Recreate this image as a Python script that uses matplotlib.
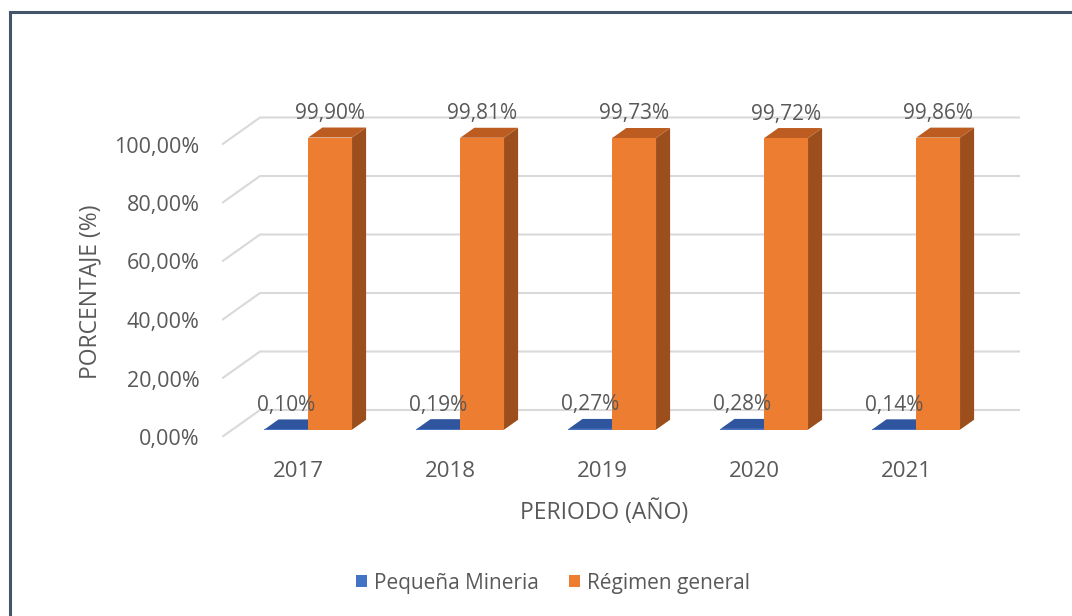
import matplotlib
matplotlib.use("Agg")
import matplotlib.pyplot as plt
from matplotlib.patches import Polygon, Rectangle
from matplotlib.lines import Line2D

years = ['2017', '2018', '2019', '2020', '2021']
pequena = [0.10, 0.19, 0.27, 0.28, 0.14]
regimen = [99.90, 99.81, 99.73, 99.72, 99.86]
series_names = ['Pequeña Mineria', 'Régimen general']
yticks = [0, 20, 40, 60, 80, 100]

plt.rcParams['font.family'] = ['Open Sans', 'DejaVu Sans']
TXT = '#595959'

W, H = 1072, 616
fig = plt.figure(figsize=(W / 100, H / 100), dpi=100)

# axes placed in pixel terms
px_l, px_r, px_b, px_t = 222, 1022, 437, 110
ax = fig.add_axes([px_l / W, 1 - px_b / H, (px_r - px_l) / W, (px_b - px_t) / H])
cat_px = 152.0
y_px = 2.925
ax.set_xlim(-0.5, -0.5 + (px_r - px_l) / cat_px)
ax.set_ylim(0, (px_b - px_t) / y_px)
for s in ax.spines.values():
    s.set_visible(False)
ax.patch.set_visible(False)

# oblique depth
DX = 38 / cat_px
DY = 27 / y_px


def proj(x, y, d):
    return (x + d * DX, y + d * DY)


n = len(years)
grid_c = '#D9D9D9'
for v in yticks:
    p0 = proj(-0.5, v, 0)
    p1 = proj(-0.5, v, 1)
    p2 = proj(n - 0.5, v, 1)
    ax.plot([p0[0], p1[0], p2[0]], [p0[1], p1[1], p2[1]], color=grid_c, lw=1.5,
            zorder=1, solid_capstyle='butt')

bw = 0.288
d0, d1 = 0.27, 0.64


def bar3d(xl, h, front, top, side):
    xr = xl + bw
    f = [proj(xl, 0, d0), proj(xr, 0, d0), proj(xr, h, d0), proj(xl, h, d0)]
    t = [proj(xl, h, d0), proj(xr, h, d0), proj(xr, h, d1), proj(xl, h, d1)]
    s = [proj(xr, 0, d0), proj(xr, 0, d1), proj(xr, h, d1), proj(xr, h, d0)]
    ax.add_patch(Polygon(s, closed=True, facecolor=side, edgecolor='none', zorder=3))
    ax.add_patch(Polygon(t, closed=True, facecolor=top, edgecolor='none', zorder=3))
    ax.add_patch(Polygon(f, closed=True, facecolor=front, edgecolor='none', zorder=3))


def fmt(v):
    return f"{v:.2f}%".replace('.', ',')


for i in range(n):
    bar3d(i - bw, pequena[i], '#4472C4', '#2F559E', '#2A4C8C')
    bar3d(i, regimen[i], '#ED7D31', '#BC5C21', '#9C4F1C')

for i in range(n):
    for xl, v in ((i - bw, pequena[i]), (i, regimen[i])):
        ax.annotate(fmt(v), xy=proj(xl + bw / 2, v, d0), xytext=(0, 24),
                    textcoords='offset pixels', ha='center', va='center',
                    fontsize=15, color=TXT, zorder=5)

ax.set_yticks(yticks)
ax.set_yticklabels([fmt(v) for v in yticks])
ax.set_xticks(range(n))
ax.set_xticklabels(years)
ax.tick_params(axis='y', length=0, pad=16, labelsize=15.5, labelcolor=TXT)
ax.tick_params(axis='x', length=0, pad=17, labelsize=16, labelcolor=TXT)

fig.text(90 / W, 1 - 292 / H, 'PORCENTAJE (%)', rotation=90, ha='center', va='center',
         fontsize=16.5, color=TXT)
fig.text(604 / W, 1 - 512 / H, 'PERIODO (AÑO)', ha='center', va='center',
         fontsize=16.5, color=TXT)

handles = [Rectangle((0, 0), 1, 1, facecolor='#4472C4', edgecolor='none'),
           Rectangle((0, 0), 1, 1, facecolor='#ED7D31', edgecolor='none')]
leg = fig.legend(handles, series_names, loc='center', bbox_to_anchor=(553 / W, 1 - 583 / H),
                 ncol=2, frameon=False, fontsize=15, handlelength=0.55, handleheight=0.55,
                 handletextpad=0.35, columnspacing=1.4, labelcolor=TXT)

# outer border (partially cropped)
border = '#44546A'
fig.add_artist(Line2D([10 / W, 10 / W], [1 - 12 / H, 0], transform=fig.transFigure,
                      color=border, lw=2.2))
fig.add_artist(Line2D([10 / W, 1], [1 - 12 / H, 1 - 12 / H], transform=fig.transFigure,
                      color=border, lw=2.2))

fig.savefig('out.png', dpi=100, facecolor='white')
